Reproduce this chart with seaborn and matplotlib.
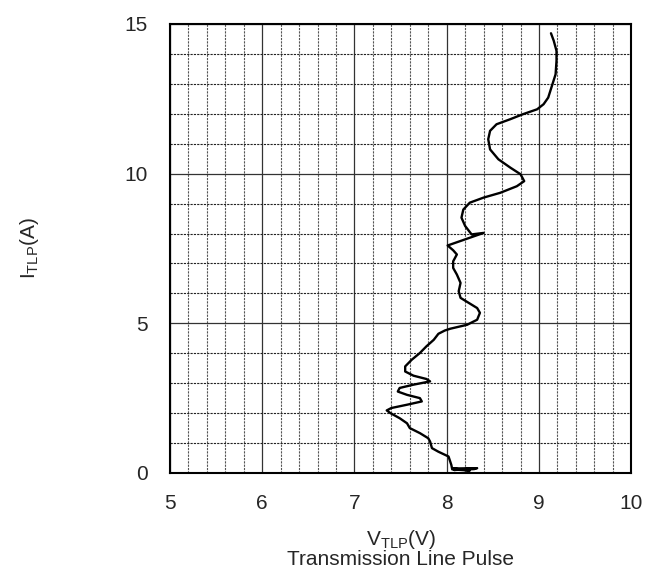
import seaborn as sns
import matplotlib.pyplot as plt
import pandas as pd
from matplotlib.ticker import MultipleLocator

# TLP I-V curve (from the bottom up)
v_tlp = [8.30, 8.08, 8.33, 8.07, 8.25, 8.06, 8.05,
         8.02, 7.91, 7.84, 7.82, 7.80, 7.71, 7.60, 7.57, 7.49, 7.39, 7.35,
         7.40, 7.57, 7.73, 7.71, 7.57, 7.47, 7.49, 7.64, 7.82, 7.78, 7.64,
         7.55, 7.55, 7.62, 7.71, 7.78, 7.86, 7.91, 7.98, 8.04, 8.22, 8.33,
         8.36, 8.33, 8.24, 8.15, 8.13, 8.15, 8.11, 8.07, 8.07, 8.11, 8.07,
         8.01, 8.40, 8.27, 8.20, 8.16, 8.18, 8.25, 8.40, 8.58, 8.76, 8.84,
         8.80, 8.69, 8.56, 8.47, 8.45, 8.47, 8.54, 8.69, 8.83, 8.98, 9.05,
         9.10, 9.14, 9.18, 9.19, 9.19, 9.16, 9.13]
i_tlp = [0.13, 0.10, 0.16, 0.15, 0.08, 0.12, 0.27,
         0.55, 0.71, 0.83, 1.05, 1.16, 1.33, 1.50, 1.66, 1.83, 2.00, 2.09,
         2.17, 2.28, 2.39, 2.50, 2.61, 2.72, 2.84, 2.95, 3.06, 3.14, 3.25,
         3.39, 3.56, 3.78, 4.01, 4.23, 4.45, 4.65, 4.76, 4.82, 4.95, 5.12,
         5.35, 5.51, 5.68, 5.85, 6.07, 6.35, 6.63, 6.85, 7.07, 7.30, 7.44,
         7.60, 8.02, 7.97, 8.25, 8.53, 8.80, 9.03, 9.20, 9.36, 9.58, 9.75,
         9.98, 10.20, 10.48, 10.81, 11.15, 11.43, 11.65, 11.82, 11.99, 12.15, 12.32,
         12.54, 12.93, 13.32, 13.77, 14.10, 14.44, 14.69]

x_ticks = [5, 6, 7, 8, 9, 10]
y_ticks = [0, 5, 10, 15]

df = pd.DataFrame({'V': v_tlp, 'I': i_tlp})

sns.set_style('white')
plt.rcParams['font.family'] = ['Liberation Sans', 'DejaVu Sans']
plt.rcParams['mathtext.default'] = 'regular'

fig = plt.figure(figsize=(6.61, 5.85), dpi=100)
ax = fig.add_axes([0.257, 0.1915, 0.698, 0.7675])

# grid: dashed minor lines, solid major lines
ax.set_xlim(5, 10)
ax.set_ylim(0, 15)
ax.xaxis.set_minor_locator(MultipleLocator(0.2))
ax.yaxis.set_minor_locator(MultipleLocator(1))
ax.set_xticks(x_ticks)
ax.set_yticks(y_ticks)
ax.grid(which='minor', axis='x', color='#555555', linestyle=(0, (2, 1)), linewidth=0.8)
ax.grid(which='minor', axis='y', color='#222222', linestyle=(0, (2, 1)), linewidth=0.8)
ax.grid(which='major', color='#333333', linestyle='-', linewidth=0.9)
ax.set_axisbelow(True)

sns.lineplot(data=df, x='V', y='I', sort=False, estimator=None,
             color='black', linewidth=1.7, ax=ax)

for s in ax.spines.values():
    s.set_visible(True)
    s.set_color('black')
    s.set_linewidth(1.5)

ax.tick_params(which='both', length=0)
ax.tick_params(axis='x', labelsize=15, pad=15)
ax.tick_params(axis='y', labelsize=15, pad=16)

ax.set_xlabel('V$_{TLP}$(V)\nTransmission Line Pulse', fontsize=15, labelpad=11,
              linespacing=0.95)
ax.set_ylabel('I$_{TLP}$(A)', fontsize=15, labelpad=60)

fig.savefig('out.png', dpi=100)
